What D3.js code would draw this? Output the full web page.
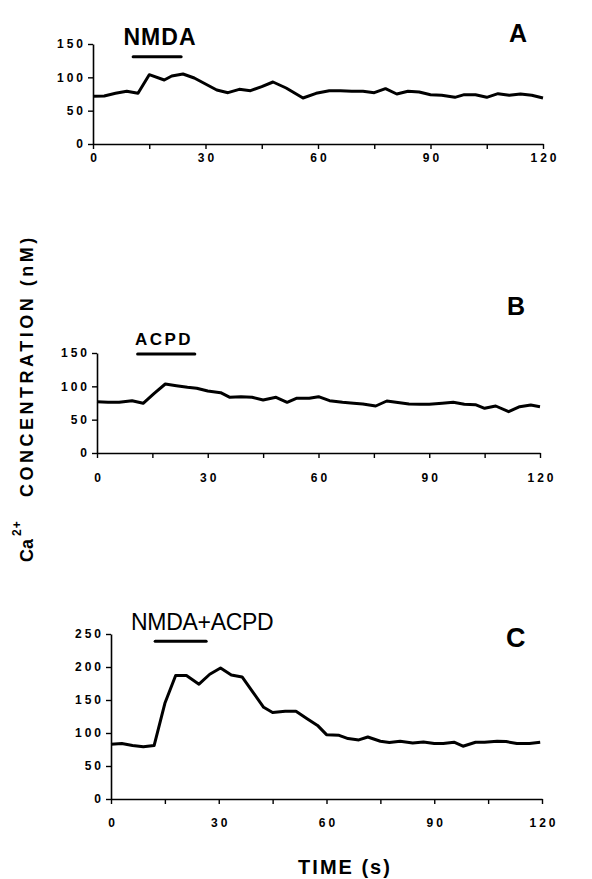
<!DOCTYPE html>
<html>
<head>
<meta charset="utf-8">
<script src="https://cdn.jsdelivr.net/npm/d3@7"></script>
<style>
  body { margin: 0; background: #fff; }
  svg { display: block; font-family: "Liberation Sans", Arial, sans-serif; }
</style>
</head>
<body>
<div id="chart"></div>
<script>
const width = 592, height = 879;

// panel A: NMDA
const timeA = [0, 3, 6, 9, 12, 15, 19, 21, 24, 27, 30, 33, 36, 39, 42, 45, 48, 51.5, 56, 59.5,
               63, 66, 69, 72, 75, 78, 81, 84, 87, 90, 93, 96.5, 99, 102, 105, 108, 111, 114, 117, 120];
const caA = [71.5, 72, 76, 79, 76, 104, 96, 102, 105, 99, 90, 81, 77, 82, 80, 86, 93, 84, 69, 76,
             80, 80, 79, 79, 77, 83, 75, 79, 78, 74, 73, 70, 74, 74, 70, 75.5, 73, 75, 73, 69];

// panel B: ACPD
const timeB = [0, 3, 6, 9.5, 12.5, 15.5, 18.5, 21.5, 24.5, 27, 30, 33.5, 36, 39, 42, 45, 48.5, 51.5, 54, 57.5,
               60, 63, 66.5, 69.5, 72, 75.5, 78.5, 81, 84.5, 87.5, 90, 93.5, 96.5, 99.5, 102.5, 105, 108, 111.5, 114.5, 117.5, 120];
const caB = [77, 76, 76, 78.5, 74.5, 89.5, 103.5, 101, 98.5, 97, 93, 90.5, 83.5, 84.5, 83.5, 79.5, 83.5, 76, 82, 82,
             84.5, 78.5, 76, 74.5, 73.5, 70.5, 78, 76, 73.5, 73, 73, 74.5, 76, 73, 72.5, 67, 70.5, 62, 69.5, 72, 69.5];

// panel C: NMDA+ACPD
const timeC = [0, 3, 6, 9, 12, 15, 18, 21, 24.5, 27.5, 30.5, 33.5, 36.5, 39.5, 42.5, 45, 48.5, 51.5, 54.5, 57.5,
               60, 63.5, 66, 69, 71.5, 75, 77.5, 80.5, 84, 87, 90, 92.5, 95.5, 98, 101.5, 104, 107.5, 110, 113, 116.5, 119.5];
const caC = [83, 84, 81, 79, 81, 145, 187, 187, 174, 189, 198.5, 188, 185, 162, 139, 131, 133, 133, 122, 111.5,
             97.5, 96.5, 91.5, 89.5, 94, 87.5, 85.5, 87.5, 85, 86.5, 84, 84, 86, 80, 86, 86, 87.5, 87, 84, 84, 86];

// application bars [start, end] in s, and level in nM
const drugA = [10.7, 23.5], drugLevelA = 131;
const drugB = [11, 26.5], drugLevelB = 148.5;
const drugC = [12.3, 26.5], drugLevelC = 239;

const xTicks = [0, 15, 30, 45, 60, 75, 90, 105, 120];
const yTicksAB = [0, 50, 100, 150];
const yTicksC = [0, 50, 100, 150, 200, 250];

const panels = [
  { letter: "A", drug: "NMDA", t: timeA, v: caA, bar: drugA, level: drugLevelA, yMax: 150, yTicks: yTicksAB,
    left: 93, right: 543, bottom: 144, top: 44, xPad: 4, letterPos: [509, 42], letterSize: 25,
    labelPos: [160, 45], labelSize: 23, labelWeight: "bold", labelAnchor: "middle", labelLs: 1 },
  { letter: "B", drug: "ACPD", t: timeB, v: caB, bar: drugB, level: drugLevelB, yMax: 150, yTicks: yTicksAB,
    left: 97, right: 540, bottom: 453, top: 353, xPad: 15, letterPos: [507, 315], letterSize: 25,
    labelPos: [164, 345], labelSize: 17, labelWeight: "bold", labelAnchor: "middle", labelLs: 2.5 },
  { letter: "C", drug: "NMDA+ACPD", t: timeC, v: caC, bar: drugC, level: drugLevelC, yMax: 250, yTicks: yTicksC,
    left: 111, right: 542, bottom: 799, top: 634, xPad: 14, letterPos: [506, 647], letterSize: 27,
    labelPos: [131, 630], labelSize: 23, labelWeight: "normal", labelAnchor: "start", labelLs: -0.3 }
];

const svg = d3.select("#chart").append("svg")
    .attr("width", width)
    .attr("height", height);

panels.forEach(p => {
    const x = d3.scaleLinear().domain([0, 120]).range([p.left, p.right]);
    const y = d3.scaleLinear().domain([0, p.yMax]).range([p.bottom, p.top]);
    const g = svg.append("g");

    // X axis
    const gx = g.append("g")
        .attr("transform", `translate(0, ${p.bottom})`)
        .call(d3.axisBottom(x).tickValues(xTicks)
            .tickFormat(d => d % 30 === 0 ? d : "")
            .tickSize(5).tickSizeOuter(0).tickPadding(p.xPad));

    // Y axis
    const gy = g.append("g")
        .attr("transform", `translate(${p.left}, 0)`)
        .call(d3.axisLeft(y).tickValues(p.yTicks)
            .tickSize(5).tickSizeOuter(0).tickPadding(2));

    [gx, gy].forEach(a => {
        a.select(".domain").attr("stroke", "#000").attr("stroke-width", 1.6);
        a.selectAll(".tick line").attr("stroke", "#000").attr("stroke-width", 1.4);
        a.selectAll("text")
            .attr("fill", "#000")
            .attr("font-family", "Liberation Sans, Arial, sans-serif")
            .attr("font-size", "12px")
            .attr("font-weight", "bold")
            .attr("letter-spacing", "3px");
    });
    gx.selectAll("text").attr("dx", "1.5px");

    // trace
    const line = d3.line()
        .x((d, i) => x(p.t[i]))
        .y(d => y(d));
    g.append("path")
        .datum(p.v)
        .attr("fill", "none")
        .attr("stroke", "#000")
        .attr("stroke-width", 3)
        .attr("stroke-linejoin", "round")
        .attr("d", line);

    // drug application bar
    g.append("line")
        .attr("x1", x(p.bar[0]))
        .attr("x2", x(p.bar[1]))
        .attr("y1", y(p.level))
        .attr("y2", y(p.level))
        .attr("stroke", "#000")
        .attr("stroke-width", 3)
        .attr("stroke-linecap", "round");

    g.append("text")
        .attr("x", p.labelPos[0])
        .attr("y", p.labelPos[1])
        .attr("text-anchor", p.labelAnchor)
        .attr("font-size", p.labelSize + "px")
        .attr("font-weight", p.labelWeight)
        .attr("letter-spacing", p.labelLs + "px")
        .text(p.drug);

    // panel letter
    g.append("text")
        .attr("x", p.letterPos[0])
        .attr("y", p.letterPos[1])
        .attr("font-size", p.letterSize + "px")
        .attr("font-weight", "bold")
        .text(p.letter);
});

// Y label
const yl = svg.append("g").attr("font-weight", "bold").attr("fill", "#000");
yl.append("text")
    .attr("transform", "translate(33, 562) rotate(-90)")
    .attr("font-size", "18px")
    .text("Ca");
yl.append("text")
    .attr("transform", "translate(21, 536) rotate(-90)")
    .attr("font-size", "12px")
    .attr("letter-spacing", "1px")
    .text("2+");
yl.append("text")
    .attr("transform", "translate(33, 497) rotate(-90)")
    .attr("font-size", "18px")
    .attr("letter-spacing", "3.5px")
    .text("CONCENTRATION (nM)");

// X label
svg.append("text")
    .attr("x", 345)
    .attr("y", 874)
    .attr("text-anchor", "middle")
    .attr("font-size", "20px")
    .attr("font-weight", "bold")
    .attr("letter-spacing", "2px")
    .text("TIME (s)");
</script>
</body>
</html>
